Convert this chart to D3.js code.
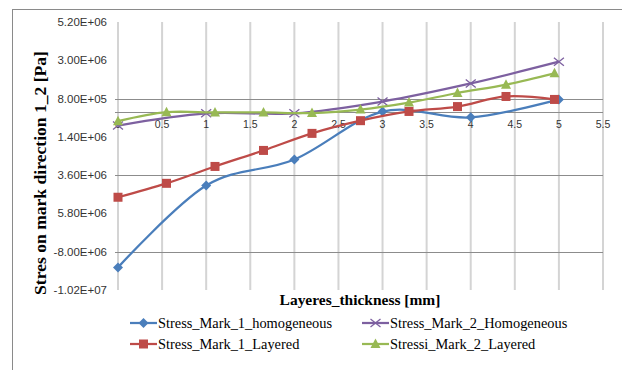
<!DOCTYPE html>
<html>
<head>
<meta charset="utf-8">
<script src="https://cdn.jsdelivr.net/npm/d3@7"></script>
<style>
  html, body { margin: 0; padding: 0; background: #fff; }
  svg { display: block; }
</style>
</head>
<body>
<svg id="chart" width="622" height="370"></svg>
<script>
// ---- data ----
const xHomog = [0, 1, 2, 3, 4, 5];
const xLayered = [0, 0.55, 1.1, 1.65, 2.2, 2.75, 3.3, 3.85, 4.4, 4.95];

const mark1Homog = [-8.9e6, -4.2e6, -2.7e6, 0.05e6, -0.28e6, 0.75e6];
const mark2Homog = [-0.75e6, -0.05e6, -0.05e6, 0.63e6, 1.67e6, 2.92e6];
const mark1Layered = [-4.87e6, -4.07e6, -3.1e6, -2.18e6, -1.2e6, -0.47e6, 0.06e6, 0.34e6, 0.92e6, 0.75e6];
const mark2Layered = [-0.5e6, 0.02e6, 0.0, 0.0, -0.03e6, 0.17e6, 0.57e6, 1.12e6, 1.6e6, 2.25e6];

const xTicks = [0, 0.5, 1, 1.5, 2, 2.5, 3, 3.5, 4, 4.5, 5, 5.5];
const xTickLabels = ["0", "0.5", "1", "1.5", "2", "2.5", "3", "3.5", "4", "4.5", "5", "5.5"];
const yTicks = [5.2e6, 3.0e6, 0.8e6, -1.4e6, -3.6e6, -5.8e6, -8.0e6, -10.2e6];
const yTickLabels = ["5.20E+06", "3.00E+06", "8.00E+05", "1.40E+06", "3.60E+06", "5.80E+06", "-8.00E+06", "-1.02E+07"];
const yGridValues = [0.8e6, -3.6e6, -8.0e6];

const seriesNames = ["Stress_Mark_1_homogeneous", "Stress_Mark_2_Homogeneous", "Stress_Mark_1_Layered", "Stressi_Mark_2_Layered"];
const seriesColors = ["#4a7ebb", "#7d60a0", "#be4b48", "#98b954"];
const seriesMarkers = ["diamond", "cross", "square", "triangle"];

const series = [
  { name: seriesNames[0], xs: xHomog, ys: mark1Homog, color: seriesColors[0], marker: seriesMarkers[0] },
  { name: seriesNames[1], xs: xHomog, ys: mark2Homog, color: seriesColors[1], marker: seriesMarkers[1] },
  { name: seriesNames[2], xs: xLayered, ys: mark1Layered, color: seriesColors[2], marker: seriesMarkers[2] },
  { name: seriesNames[3], xs: xLayered, ys: mark2Layered, color: seriesColors[3], marker: seriesMarkers[3] }
];

// ---- layout ----
const svg = d3.select("#chart");
const plot = { left: 118, right: 603, top: 22, bottom: 290 };

const x = d3.scaleLinear().domain([0, 5.5]).range([plot.left, plot.right]);
const y = d3.scaleLinear().domain([-10.2e6, 5.2e6]).range([plot.bottom, plot.top]);

// scale a text node's font size so that it spans the given width
function fitWidth(sel, width) {
  const base = parseFloat(sel.attr("font-size"));
  const len = sel.node().getComputedTextLength();
  const size = base * width / len;
  sel.attr("font-size", size);
  return size;
}

// chart border
svg.append("rect")
  .attr("x", 12.5).attr("y", 9.5)
  .attr("width", 640).attr("height", 400)
  .attr("fill", "#fff").attr("stroke", "#8a8a8a").attr("stroke-width", 1);

// vertical gridlines
svg.append("g")
  .selectAll("line")
  .data(xTicks)
  .join("line")
  .attr("x1", d => x(d)).attr("x2", d => x(d))
  .attr("y1", plot.top).attr("y2", plot.bottom)
  .attr("stroke", "#d4d4d4").attr("stroke-width", 2);

// horizontal gridlines
svg.append("g")
  .selectAll("line")
  .data(yGridValues)
  .join("line")
  .attr("x1", plot.left - 3).attr("x2", plot.right)
  .attr("y1", d => Math.round(y(d)) + 0.5).attr("y2", d => Math.round(y(d)) + 0.5)
  .attr("stroke", "#8c8c8c").attr("stroke-width", 1);

// horizontal axis at zero
svg.append("line")
  .attr("x1", plot.left - 3).attr("x2", plot.right)
  .attr("y1", Math.round(y(0)) + 0.5).attr("y2", Math.round(y(0)) + 0.5)
  .attr("stroke", "#8c8c8c").attr("stroke-width", 1);

// x tick labels (next to the zero axis)
svg.append("g")
  .selectAll("text")
  .data(xTicks)
  .join("text")
  .attr("x", d => x(d))
  .attr("y", y(0) + 16)
  .attr("text-anchor", "middle")
  .attr("font-family", "Liberation Sans, Arial, sans-serif")
  .attr("font-size", 10.5)
  .attr("fill", "#333")
  .text((d, i) => xTickLabels[i]);

// y tick labels
svg.append("g")
  .selectAll("text")
  .data(yTicks)
  .join("text")
  .attr("x", 107)
  .attr("y", d => y(d) + 4)
  .attr("text-anchor", "end")
  .attr("font-family", "Liberation Sans, Arial, sans-serif")
  .attr("font-size", 11.5)
  .attr("fill", "#333")
  .text((d, i) => yTickLabels[i]);

// axis titles
const yTitle = svg.append("text")
  .attr("transform", "translate(46,173) rotate(-90)")
  .attr("text-anchor", "middle")
  .attr("font-family", "Liberation Serif, Times New Roman, serif")
  .attr("font-weight", "bold")
  .attr("font-size", 17)
  .attr("fill", "#000")
  .text("Stres on mark direction 1_2 [Pa]");
fitWidth(yTitle, 244);

const xTitle = svg.append("text")
  .attr("x", 360).attr("y", 305)
  .attr("text-anchor", "middle")
  .attr("font-family", "Liberation Serif, Times New Roman, serif")
  .attr("font-weight", "bold")
  .attr("font-size", 15.5)
  .attr("fill", "#000")
  .text("Layeres_thickness [mm]");
fitWidth(xTitle, 161);

// ---- markers ----
function drawMarker(g, type, color) {
  if (type === "diamond") {
    g.append("path").attr("d", "M0,-5L5,0L0,5L-5,0Z").attr("fill", color);
  } else if (type === "square") {
    g.append("rect").attr("x", -4.5).attr("y", -4.5).attr("width", 9).attr("height", 9).attr("fill", color);
  } else if (type === "triangle") {
    g.append("path").attr("d", "M0,-5.5L5,4L-5,4Z").attr("fill", color);
  } else if (type === "cross") {
    g.append("path").attr("d", "M-5,-4L5,4M-5,4L5,-4")
      .attr("stroke", color).attr("stroke-width", 1.3).attr("fill", "none");
  }
}

// ---- series lines ----
const line = d3.line()
  .x(d => x(d[0]))
  .y(d => y(d[1]))
  .curve(d3.curveCardinal.tension(0));

series.forEach(s => {
  const pts = s.xs.map((v, i) => [v, s.ys[i]]);
  svg.append("path")
    .datum(pts)
    .attr("d", line)
    .attr("fill", "none")
    .attr("stroke", s.color)
    .attr("stroke-width", 2.25)
    .attr("stroke-linejoin", "round");
  const mg = svg.append("g");
  pts.forEach(p => {
    const g = mg.append("g").attr("transform", `translate(${x(p[0])},${y(p[1])})`);
    drawMarker(g, s.marker, s.color);
  });
});

// ---- legend ----
const legendPos = [
  { x: 130, y: 323 }, { x: 362, y: 323 },
  { x: 130, y: 344 }, { x: 362, y: 344 }
];
const legendTexts = [];
series.forEach((s, i) => {
  const p = legendPos[i];
  const g = svg.append("g").attr("transform", `translate(${p.x},${p.y})`);
  g.append("line").attr("x1", 0).attr("x2", 27).attr("y1", 0).attr("y2", 0)
    .attr("stroke", s.color).attr("stroke-width", 2.25);
  drawMarker(g.append("g").attr("transform", "translate(13.5,0)"), s.marker, s.color);
  legendTexts.push(g.append("text")
    .attr("x", 28).attr("y", 4.5)
    .attr("font-family", "Liberation Serif, Times New Roman, serif")
    .attr("font-size", 14.2)
    .attr("fill", "#000")
    .text(s.name));
});
const legendSize = fitWidth(legendTexts[0], 174);
legendTexts.forEach(t => t.attr("font-size", legendSize));
</script>
</body>
</html>
